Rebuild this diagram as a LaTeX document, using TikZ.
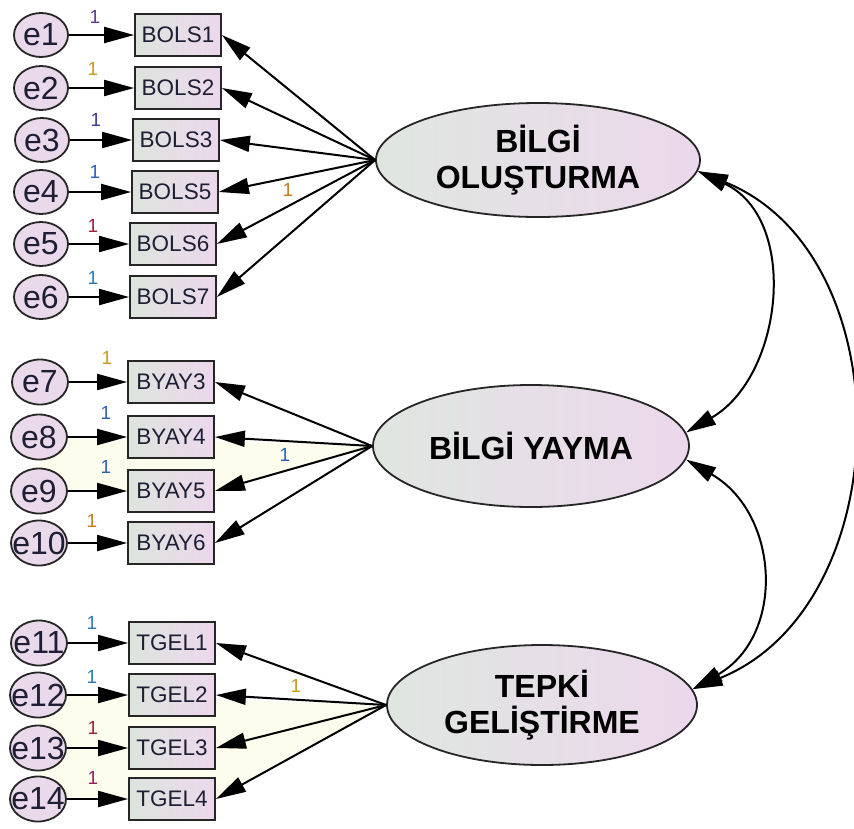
\documentclass[tikz,border=0pt]{standalone}
\usepackage{fontspec}
\setmainfont{Liberation Sans}
\usetikzlibrary{shapes.geometric,arrows.meta}
\pgfdeclarelayer{background}
\pgfsetlayers{background,main}

\definecolor{boxL}{HTML}{DDE4DD}
\definecolor{boxR}{HTML}{ECD8EC}
\definecolor{latL}{HTML}{DFE6E0}
\definecolor{latR}{HTML}{ECD8EC}
\definecolor{errfill}{HTML}{E9D9EA}
\definecolor{cream}{HTML}{FDFDEE}
\definecolor{inkdark}{HTML}{1E1E34}
\definecolor{cPurple}{HTML}{5A3A9C}
\definecolor{cGold}{HTML}{C99A1E}
\definecolor{cNavy}{HTML}{3A3A9C}
\definecolor{cBlue}{HTML}{2A62B8}
\definecolor{cRed}{HTML}{A02038}
\definecolor{cTeal}{HTML}{2A7AB8}
\definecolor{cOrange}{HTML}{C87A1E}
\definecolor{cPlum}{HTML}{902060}

\begin{document}
\begin{tikzpicture}[x=1pt,y=-1pt,
  arrowline/.style={line width=2pt, draw=black, -{Triangle[length=30pt,width=16pt]}},
  covline/.style={line width=2pt, draw=black,
    {Triangle[length=30pt,width=16pt]}-{Triangle[length=30pt,width=16pt]}},
  obsbox/.style={draw=black!85, line width=1.8pt, rectangle, minimum width=86pt,
    minimum height=42pt, inner sep=0pt, left color=boxL, right color=boxR,
    text=inkdark, font=\fontsize{22.5}{22.5}\selectfont},
  errtext/.style={text=inkdark, font=\fontsize{32}{32}\selectfont},
  errc/.style={draw=black!85, line width=1.8pt, ellipse, minimum width=56pt,
    minimum height=45pt, inner sep=0pt, fill=errfill},
  latent/.style={draw=black!85, line width=1.8pt, ellipse, inner sep=0pt,
    left color=latL, right color=latR, align=center,
    font=\fontsize{32}{36}\selectfont\bfseries},
  one/.style={font=\fontsize{19}{19}\selectfont, inner sep=0pt}
]
\useasboundingbox (0,0) rectangle (854,828);

% latent variables
\node[latent, minimum width=324pt, minimum height=114pt] (bo) at (538,160) {BİLGİ\\OLUŞTURMA};
\node[latent, minimum width=316pt, minimum height=122pt] (by) at (531,446) {BİLGİ YAYMA};
\node[latent, minimum width=310pt, minimum height=120pt] (tg) at (542,705) {TEPKİ\\GELİŞTİRME};

% observed indicators
\node[obsbox] (b1) at (178,35)  {BOLS1};
\node[obsbox] (b2) at (178,88)  {BOLS2};
\node[obsbox] (b3) at (176,140) {BOLS3};
\node[obsbox] (b4) at (175,192) {BOLS5};
\node[obsbox] (b5) at (173,244) {BOLS6};
\node[obsbox] (b6) at (173,297) {BOLS7};

\node[obsbox] (y3) at (171,382) {BYAY3};
\node[obsbox] (y4) at (171,437) {BYAY4};
\node[obsbox] (y5) at (171,491) {BYAY5};
\node[obsbox] (y6) at (171,543) {BYAY6};

\node[obsbox] (t1) at (172,643) {TGEL1};
\node[obsbox] (t2) at (172,695) {TGEL2};
\node[obsbox] (t3) at (172,748) {TGEL3};
\node[obsbox] (t4) at (172,799) {TGEL4};

% error terms
\node[errc, minimum width=54pt, minimum height=44pt, label={[errtext]center:e1}] (e1) at (41,35)  {};
\node[errc, minimum width=54pt, minimum height=44pt, label={[errtext]center:e2}] (e2) at (41,88)  {};
\node[errc, minimum width=54pt, minimum height=44pt, label={[errtext]center:e3}] (e3) at (42,140) {};
\node[errc, minimum width=54pt, minimum height=44pt, label={[errtext]center:e4}] (e4) at (41,192) {};
\node[errc, minimum width=54pt, minimum height=44pt, label={[errtext]center:e5}] (e5) at (41,244) {};
\node[errc, minimum width=54pt, minimum height=44pt, label={[errtext]center:e6}] (e6) at (41,297) {};

\node[errc, label={[errtext]center:e7}]  (e7)  at (40,382) {};
\node[errc, label={[errtext]center:e8}]  (e8)  at (39,437) {};
\node[errc, label={[errtext]center:e9}]  (e9)  at (39,491) {};
\node[errc, label={[errtext]center:e10}] (e10) at (39,543) {};

\node[errc, label={[errtext]center:e11}] (e11) at (39,643) {};
\node[errc, label={[errtext]center:e12}] (e12) at (38,695) {};
\node[errc, label={[errtext]center:e13}] (e13) at (38,748) {};
\node[errc, label={[errtext]center:e14}] (e14) at (38,799) {};

% pale shaded bands behind the lower groups
\begin{pgfonlayer}{background}
  \fill[cream] (e8.center) -- (by.west) -- (y5.east) -- (e9.center) -- cycle;
  \fill[cream] (e12.center) -- (tg.west) -- (t4.east) -- (e14.center) -- cycle;
\end{pgfonlayer}

% error paths
\foreach \e/\b in {e1/b1,e2/b2,e3/b3,e4/b4,e5/b5,e6/b6,
                   e7/y3,e8/y4,e9/y5,e10/y6,
                   e11/t1,e12/t2,e13/t3,e14/t4}
  \draw[arrowline] (\e.east) -- (\b.west);

% factor loadings
\foreach \b in {b1,b2,b3,b4,b5,b6} \draw[arrowline] (bo.west) -- (\b.east);
\foreach \b in {y3,y4,y5,y6} \draw[arrowline] (by.west) -- (\b.east);
\foreach \b in {t1,t2,t3,t4} \draw[arrowline] (tg.west) -- (\b.east);

% covariances
\draw[covline] (bo.-4) to[out=-25, in=30, looseness=1.1] (by.5);
\draw[covline] (by.-5) to[out=-30, in=30, looseness=1.2] (tg.6);
\draw[covline] (bo.-4) to[out=-22, in=22, looseness=1.1] (tg.6);

% fixed parameter labels
\node[one, text=cPurple] (p1) at (95,17)  {1};
\node[one, text=cGold]   (p2) at (93,69)  {1};
\node[one, text=cNavy]   (p3) at (96,120) {1};
\node[one, text=cBlue]   (p4) at (95,172) {1};
\node[one, text=cRed]    (p5) at (93,226) {1};
\node[one, text=cTeal]   (p6) at (93,278) {1};
\node[one, text=cOrange] (pl1) at (288,190) {1};

\node[one, text=cGold]   (p7)  at (107,358) {1};
\node[one, text=cBlue]   (p8)  at (106,413) {1};
\node[one, text=cBlue]   (p9)  at (106,467) {1};
\node[one, text=cOrange] (p10) at (92,521)  {1};
\node[one, text=cBlue]   (pl2) at (285,455) {1};

\node[one, text=cTeal]   (p11) at (92,623) {1};
\node[one, text=cTeal]   (p12) at (92,677) {1};
\node[one, text=cRed]    (p13) at (93,728) {1};
\node[one, text=cPlum]   (p14) at (93,778) {1};
\node[one, text=cGold]   (pl3) at (296,686) {1};
\end{tikzpicture}
\end{document}
